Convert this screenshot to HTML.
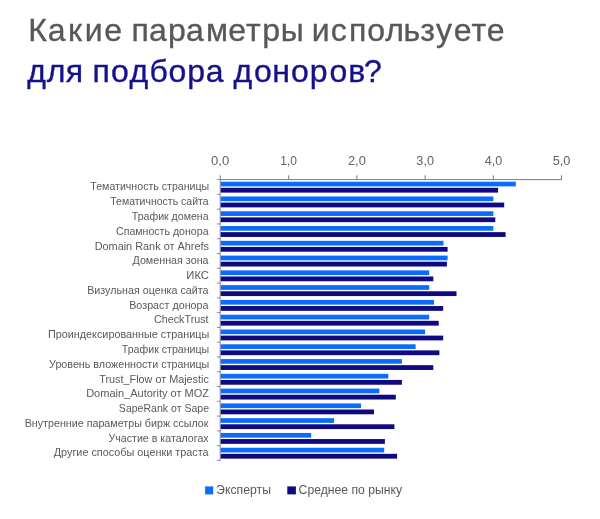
<!DOCTYPE html>
<html lang="ru"><head><meta charset="utf-8"><title>Какие параметры используете для подбора доноров?</title>
<style>
html,body{margin:0;padding:0;background:#fff;}
body{width:600px;height:519px;overflow:hidden;position:relative;}
svg{position:absolute;left:0;top:0;display:block;}
text{font-family:"Liberation Sans",sans-serif;}
.t1{font-size:32px;fill:#58585a;stroke:#58585a;stroke-width:0.35px;}
.t2{font-size:32px;fill:#15108c;stroke:#15108c;stroke-width:0.35px;}
.lab{font-size:10.5px;fill:#595959;}
.num{font-size:12.5px;fill:#636363;}
.leg{font-size:12px;fill:#595959;}
</style></head><body>
<svg width="600" height="519" viewBox="0 0 600 519">

<rect x="220.5" y="181.70" width="295.3" height="4.7" fill="#0a6cff"/>
<rect x="220.5" y="187.80" width="277.6" height="4.8" fill="#0f0a82"/>
<rect x="220.5" y="196.48" width="272.8" height="4.7" fill="#0a6cff"/>
<rect x="220.5" y="202.58" width="283.7" height="4.8" fill="#0f0a82"/>
<rect x="220.5" y="211.26" width="272.8" height="4.7" fill="#0a6cff"/>
<rect x="220.5" y="217.36" width="274.8" height="4.8" fill="#0f0a82"/>
<rect x="220.5" y="226.04" width="272.8" height="4.7" fill="#0a6cff"/>
<rect x="220.5" y="232.14" width="285.1" height="4.8" fill="#0f0a82"/>
<rect x="220.5" y="240.82" width="223.0" height="4.7" fill="#0a6cff"/>
<rect x="220.5" y="246.92" width="227.1" height="4.8" fill="#0f0a82"/>
<rect x="220.5" y="255.60" width="227.1" height="4.7" fill="#0a6cff"/>
<rect x="220.5" y="261.70" width="226.4" height="4.8" fill="#0f0a82"/>
<rect x="220.5" y="270.38" width="208.7" height="4.7" fill="#0a6cff"/>
<rect x="220.5" y="276.48" width="212.8" height="4.8" fill="#0f0a82"/>
<rect x="220.5" y="285.16" width="208.7" height="4.7" fill="#0a6cff"/>
<rect x="220.5" y="291.26" width="236.0" height="4.8" fill="#0f0a82"/>
<rect x="220.5" y="299.94" width="213.5" height="4.7" fill="#0a6cff"/>
<rect x="220.5" y="306.04" width="222.7" height="4.8" fill="#0f0a82"/>
<rect x="220.5" y="314.72" width="208.7" height="4.7" fill="#0a6cff"/>
<rect x="220.5" y="320.82" width="218.2" height="4.8" fill="#0f0a82"/>
<rect x="220.5" y="329.50" width="204.6" height="4.7" fill="#0a6cff"/>
<rect x="220.5" y="335.60" width="222.7" height="4.8" fill="#0f0a82"/>
<rect x="220.5" y="344.28" width="195.1" height="4.7" fill="#0a6cff"/>
<rect x="220.5" y="350.38" width="218.9" height="4.8" fill="#0f0a82"/>
<rect x="220.5" y="359.06" width="181.4" height="4.7" fill="#0a6cff"/>
<rect x="220.5" y="365.16" width="212.8" height="4.8" fill="#0f0a82"/>
<rect x="220.5" y="373.84" width="167.8" height="4.7" fill="#0a6cff"/>
<rect x="220.5" y="379.94" width="181.4" height="4.8" fill="#0f0a82"/>
<rect x="220.5" y="388.62" width="158.9" height="4.7" fill="#0a6cff"/>
<rect x="220.5" y="394.72" width="175.3" height="4.8" fill="#0f0a82"/>
<rect x="220.5" y="403.40" width="140.5" height="4.7" fill="#0a6cff"/>
<rect x="220.5" y="409.50" width="153.5" height="4.8" fill="#0f0a82"/>
<rect x="220.5" y="418.18" width="113.5" height="4.7" fill="#0a6cff"/>
<rect x="220.5" y="424.28" width="173.9" height="4.8" fill="#0f0a82"/>
<rect x="220.5" y="432.96" width="90.7" height="4.7" fill="#0a6cff"/>
<rect x="220.5" y="439.06" width="164.4" height="4.8" fill="#0f0a82"/>
<rect x="220.5" y="447.74" width="163.7" height="4.7" fill="#0a6cff"/>
<rect x="220.5" y="453.84" width="176.6" height="4.8" fill="#0f0a82"/>
<g stroke="#7a7a7a" stroke-width="1" fill="none">
<path d="M220.0 179.6 H562.0"/>
<path d="M220.2 175.3 V179.6"/>
<path d="M288.7 175.3 V179.6"/>
<path d="M356.9 175.3 V179.6"/>
<path d="M425.1 175.3 V179.6"/>
<path d="M493.3 175.3 V179.6"/>
<path d="M561.5 175.3 V179.6"/>
</g>
<g stroke="#7e7ea8" stroke-width="0.9" fill="none">
<path d="M220.2 179.6 V460.42"/>
<path d="M216.9 179.60 H220.5"/>
<path d="M216.9 194.38 H220.5"/>
<path d="M216.9 209.16 H220.5"/>
<path d="M216.9 223.94 H220.5"/>
<path d="M216.9 238.72 H220.5"/>
<path d="M216.9 253.50 H220.5"/>
<path d="M216.9 268.28 H220.5"/>
<path d="M216.9 283.06 H220.5"/>
<path d="M216.9 297.84 H220.5"/>
<path d="M216.9 312.62 H220.5"/>
<path d="M216.9 327.40 H220.5"/>
<path d="M216.9 342.18 H220.5"/>
<path d="M216.9 356.96 H220.5"/>
<path d="M216.9 371.74 H220.5"/>
<path d="M216.9 386.52 H220.5"/>
<path d="M216.9 401.30 H220.5"/>
<path d="M216.9 416.08 H220.5"/>
<path d="M216.9 430.86 H220.5"/>
<path d="M216.9 445.64 H220.5"/>
<path d="M216.9 460.42 H220.5"/>
</g>
<text class="lab" x="90.30" y="190.39" textLength="118.96" lengthAdjust="spacingAndGlyphs">Тематичность страницы</text>
<text class="lab" x="110.30" y="205.17" textLength="98.24" lengthAdjust="spacingAndGlyphs">Тематичность сайта</text>
<text class="lab" x="131.80" y="219.95" textLength="76.74" lengthAdjust="spacingAndGlyphs">Трафик домена</text>
<text class="lab" x="116.00" y="234.73" textLength="92.54" lengthAdjust="spacingAndGlyphs">Спамность донора</text>
<text class="lab" x="94.67" y="249.51" textLength="114.29" lengthAdjust="spacingAndGlyphs">Domain Rank от Ahrefs</text>
<text class="lab" x="132.50" y="264.29" textLength="76.04" lengthAdjust="spacingAndGlyphs">Доменная зона</text>
<text class="lab" x="186.34" y="279.07" textLength="22.67" lengthAdjust="spacingAndGlyphs">ИКС</text>
<text class="lab" x="87.18" y="293.85" textLength="121.36" lengthAdjust="spacingAndGlyphs">Визульная оценка сайта</text>
<text class="lab" x="129.18" y="308.63" textLength="79.36" lengthAdjust="spacingAndGlyphs">Возраст донора</text>
<text class="lab" x="153.99" y="323.41" textLength="54.63" lengthAdjust="spacingAndGlyphs">CheckTrust</text>
<text class="lab" x="47.93" y="338.19" textLength="161.34" lengthAdjust="spacingAndGlyphs">Проиндексированные страницы</text>
<text class="lab" x="121.80" y="352.97" textLength="87.46" lengthAdjust="spacingAndGlyphs">Трафик страницы</text>
<text class="lab" x="49.05" y="367.75" textLength="160.22" lengthAdjust="spacingAndGlyphs">Уровень вложенности страницы</text>
<text class="lab" x="99.29" y="382.53" textLength="109.56" lengthAdjust="spacingAndGlyphs">Trust_Flow от Majestic</text>
<text class="lab" x="86.16" y="397.31" textLength="122.77" lengthAdjust="spacingAndGlyphs">Domain_Autority от MOZ</text>
<text class="lab" x="118.85" y="412.09" textLength="90.19" lengthAdjust="spacingAndGlyphs">SapeRank от Sape</text>
<text class="lab" x="24.68" y="426.87" textLength="183.81" lengthAdjust="spacingAndGlyphs">Внутренние параметры бирж ссылок</text>
<text class="lab" x="108.55" y="441.65" textLength="100.10" lengthAdjust="spacingAndGlyphs">Участие в каталогах</text>
<text class="lab" x="53.75" y="456.43" textLength="154.79" lengthAdjust="spacingAndGlyphs">Другие способы оценки траста</text>
<text class="num" x="211.08" y="164.80" textLength="18.19" lengthAdjust="spacingAndGlyphs">0,0</text>
<text class="num" x="280.24" y="164.80" textLength="16.70" lengthAdjust="spacingAndGlyphs">1,0</text>
<text class="num" x="347.98" y="164.80" textLength="17.88" lengthAdjust="spacingAndGlyphs">2,0</text>
<text class="num" x="416.39" y="164.80" textLength="17.67" lengthAdjust="spacingAndGlyphs">3,0</text>
<text class="num" x="484.80" y="164.80" textLength="17.45" lengthAdjust="spacingAndGlyphs">4,0</text>
<text class="num" x="552.69" y="164.80" textLength="17.77" lengthAdjust="spacingAndGlyphs">5,0</text>
<text class="leg" x="216.09" y="494.40" textLength="54.96" lengthAdjust="spacingAndGlyphs">Эксперты</text>
<text class="leg" x="298.59" y="494.40" textLength="103.61" lengthAdjust="spacingAndGlyphs">Среднее по рынку</text>
<g transform="scale(1.0,1)">
<text class="t1" y="41" x="28.25 47.67 68.00 84.75 104.25">Какие</text>
<text class="t1" y="41" x="131.50 148.88 168.00 185.95 205.88 228.15 245.93 262.32 280.68">параметры</text>
<text class="t1" y="41" x="311.75 330.82 349.05 367.32 385.18 403.43 420.18 435.90 453.75 471.57 486.85">используете</text>
</g>
<g transform="scale(1.0,1)">
<text class="t2" y="81.7" x="27.25 46.85 65.70">для</text>
<text class="t2" y="81.7" x="92.62 110.95 129.50 149.38 168.45 187.32 205.80">подбора</text>
<text class="t2" y="81.7" x="233.45 254.05 272.18 290.95 309.82 329.38 348.20 364.12">доноров?</text>
</g>
<rect x="205.1" y="486.4" width="8.1" height="8" fill="#0a6cff"/>
<rect x="287.3" y="486.4" width="8.6" height="8" fill="#0f0a82"/>
</svg></body></html>
